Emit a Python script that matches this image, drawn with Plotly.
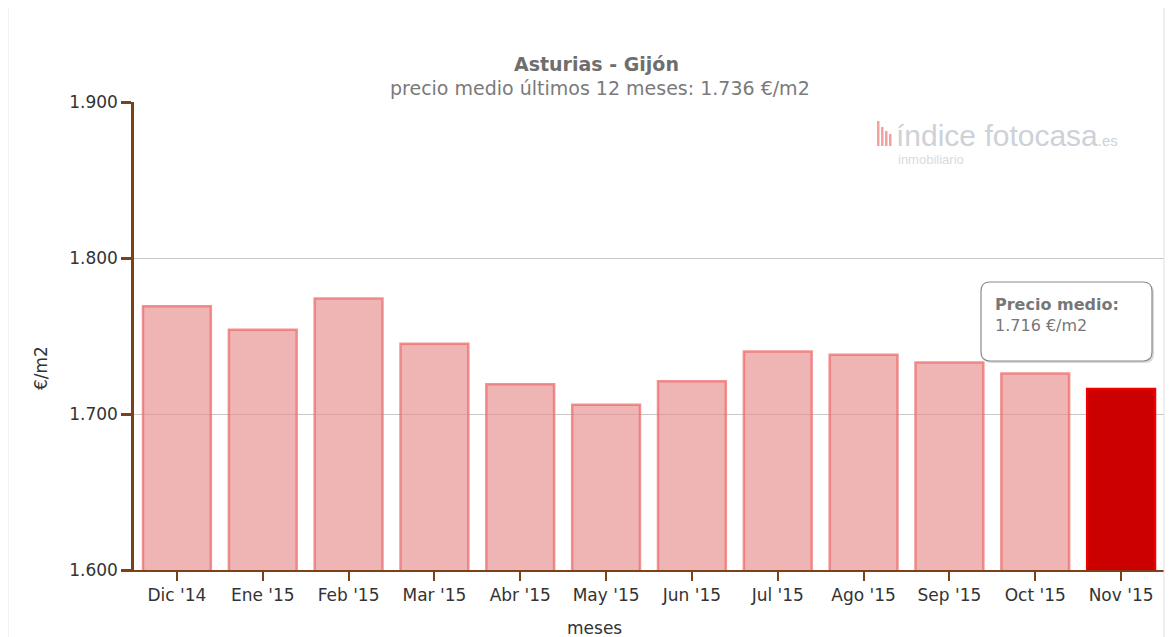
import plotly.graph_objects as go

meses = ["Dic '14", "Ene '15", "Feb '15", "Mar '15", "Abr '15", "May '15",
         "Jun '15", "Jul '15", "Ago '15", "Sep '15", "Oct '15", "Nov '15"]
precio = [1769, 1754, 1774, 1745, 1719, 1706, 1721, 1740, 1738, 1733, 1726, 1716]
y_ticks = [1600, 1700, 1800, 1900]
titulo = "Asturias - Gijón"
subtitulo = "precio medio últimos 12 meses: 1.736 €/m2"
eje_x = "meses"
eje_y = "€/m2"

OFF = 8  # page body margin
W, H = 1173 - OFF, 637 - OFF
L, R, T, B = 134 - OFF, 1164 - OFF, 102 - OFF, 570 - OFF

def px(x):
    return (x - OFF - L) / (R - L)

def py(y):
    return (B - (y - OFF)) / (B - T)

fill = ["rgba(231,140,140,0.65)"] * (len(precio) - 1) + ["#cc0000"]
line = ["rgba(238,110,110,0.75)"] * (len(precio) - 1) + ["#ee0000"]

fig = go.Figure(go.Bar(
    x=meses, y=precio,
    marker=dict(color=fill, line=dict(color=line, width=2.5)),
    width=0.79, hoverinfo="skip",
))

brown = "#7b4217"
font = "DejaVu Sans, Verdana, sans-serif"
txt = "#333333"

fig.update_layout(
    width=W, height=H,
    margin=dict(l=L, r=W - R, t=T, b=H - B),
    paper_bgcolor="white", plot_bgcolor="white",
    separators=",.",
    font=dict(family=font, size=17, color=txt),
    showlegend=False,
    xaxis=dict(showline=True, linecolor=brown, linewidth=2, ticks="outside",
               tickcolor=brown, ticklen=9, tickwidth=2, showgrid=False,
               tickfont=dict(size=17, color=txt)),
    yaxis=dict(range=[y_ticks[0], y_ticks[-1]], tickvals=y_ticks, tickformat=",d",
               showline=True, linecolor=brown, linewidth=2.5, ticks="outside",
               tickcolor=brown, ticklen=10, tickwidth=2.5,
               gridcolor="#c8c8c8", gridwidth=1, zeroline=False,
               tickfont=dict(size=17, color=txt)),
)

def a(text, x, y, size, color, **kw):
    d = dict(text=text, x=px(x), y=py(y), xref="paper", yref="paper", showarrow=False,
             xanchor="center", yanchor="middle", font=dict(size=size, color=color, family=font))
    d.update(kw)
    return d

ann = [
    a("<b>" + titulo + "</b>", 596, 64, 19, "#6e6e6e"),
    a(subtitulo, 600, 88, 19, "#7a7a7a"),
    a(eje_x, 594, 628, 17, txt),
    a(eje_y, 41, 368, 17, txt, textangle=-90),
    dict(text="índice fotocasa<span style='font-size:15px'>.es</span>", x=px(894), y=py(136),
         xref="paper", yref="paper", showarrow=False, xanchor="left", yanchor="middle",
         font=dict(size=30, color="#cdd1d8", family="Liberation Sans, sans-serif")),
    dict(text="inmobiliario", x=px(896), y=py(159), xref="paper", yref="paper", showarrow=False,
         xanchor="left", yanchor="middle", font=dict(size=13, color="#d8dbe0", family="Liberation Sans, sans-serif")),
    a("<b>Precio medio:</b><br>" + f"{precio[-1]/1000:.3f} €/m2", 993, 315, 16, "#777777",
      xanchor="left", align="left"),
]
fig.update_layout(annotations=ann)

shapes = []
# logo bars
for x0, top in [(877, 121), (881, 127), (885, 131), (889, 134)]:
    shapes.append(dict(type="rect", xref="paper", yref="paper", x0=px(x0), x1=px(x0 + 2.5),
                       y0=py(146), y1=py(top), fillcolor="#f2a0a0", line=dict(width=0)))

def rounded(x0, y0, x1, y1, r):
    X0, X1 = px(x0), px(x1)
    Y0, Y1 = py(y0), py(y1)
    rx, ry = r / (R - L), r / (B - T)
    return (f"M {X0+rx},{Y0} L {X1-rx},{Y0} Q {X1},{Y0} {X1},{Y0-ry} "
            f"L {X1},{Y1+ry} Q {X1},{Y1} {X1-rx},{Y1} L {X0+rx},{Y1} "
            f"Q {X0},{Y1} {X0},{Y1+ry} L {X0},{Y0-ry} Q {X0},{Y0} {X0+rx},{Y0} Z")

shapes.append(dict(type="path", xref="paper", yref="paper", path=rounded(983, 284, 1154, 363, 9),
                   fillcolor="rgba(0,0,0,0.15)", line=dict(width=0)))
shapes.append(dict(type="path", xref="paper", yref="paper", path=rounded(981, 282, 1152, 361, 9),
                   fillcolor="white", line=dict(color="#8a8a8a", width=1.2)))
# container borders
shapes.append(dict(type="line", xref="paper", yref="paper", x0=px(8), x1=px(8), y0=py(637), y1=py(8),
                   line=dict(color="#e6e6e6", width=1)))
shapes.append(dict(type="line", xref="paper", yref="paper", x0=px(1164), x1=px(1164), y0=py(637), y1=py(8),
                   line=dict(color="#e0e0e0", width=1)))
fig.update_layout(shapes=shapes)

fig.write_html("out.html")
